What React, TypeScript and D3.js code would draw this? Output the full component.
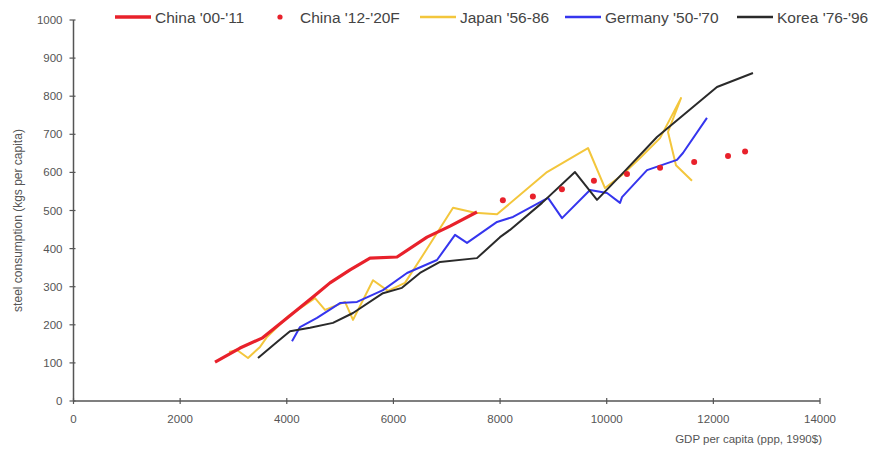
import React from "react";
import * as d3 from "d3";

type P = [number, number];

const chinaA: P[] = [
  [2654, 102], [3123, 139], [3535, 165], [4023, 220], [4491, 273], [4810, 310],
  [5186, 344], [5561, 375], [6067, 378], [6630, 430], [7062, 459], [7567, 496],
];
const chinaF: P[] = [
  [8052, 527], [8615, 537], [9160, 556], [9760, 578], [10380, 596],
  [11000, 612], [11640, 627], [12275, 643], [12595, 655],
];
const japan: P[] = [
  [2916, 129], [3066, 134], [3273, 113], [3498, 142], [3629, 168], [4023, 222],
  [4529, 270], [4717, 239], [5092, 260], [5242, 213], [5617, 317], [5898, 289],
  [6217, 310], [6555, 383], [7118, 507], [7530, 494], [7943, 490], [8880, 601],
  [9649, 664], [9968, 559], [10287, 593], [10625, 638], [11000, 690],
  [11393, 795], [11149, 706], [11299, 619], [11599, 578],
];
const germany: P[] = [
  [4098, 157], [4248, 194], [4567, 218], [4998, 257], [5317, 260], [5804, 291],
  [6255, 336], [6817, 370], [7155, 436], [7380, 415], [7943, 470], [8243, 483],
  [8900, 533], [9162, 480], [9687, 554], [10006, 546], [10250, 520], [10287, 535],
  [10756, 606], [11318, 633], [11430, 651], [11880, 743],
];
const korea: P[] = [
  [3460, 113], [3816, 155], [4060, 183], [4436, 192], [4866, 205], [5242, 231],
  [5804, 283], [6160, 297], [6498, 336], [6873, 365], [7567, 375], [7998, 430],
  [8186, 449], [8787, 520], [9405, 601], [9818, 528], [10343, 604], [10943, 693],
  [12068, 824], [12743, 861],
];

const xTicks = [0, 2000, 4000, 6000, 8000, 10000, 12000, 14000];
const yTicks = [0, 100, 200, 300, 400, 500, 600, 700, 800, 900, 1000];

const legendItems = [
  { label: "China '00-'11", color: "#e8212b", kind: "line", w: 3 },
  { label: "China '12-'20F", color: "#e8212b", kind: "dot", w: 0 },
  { label: "Japan '56-86", color: "#f3c63c", kind: "line", w: 2 },
  { label: "Germany '50-'70", color: "#3535ee", kind: "line", w: 2 },
  { label: "Korea '76-'96", color: "#2a2a2a", kind: "line", w: 2 },
];
const legendX = [115, 272, 420, 565, 737];

export default function App() {
  const x = d3.scaleLinear().domain([0, 14000]).range([73.5, 820]);
  const y = d3.scaleLinear().domain([0, 1000]).range([401, 20]);
  const line = d3
    .line<P>()
    .x((d) => x(d[0]))
    .y((d) => y(d[1]));
  const font = "'Liberation Sans', Arial, sans-serif";
  const axisColor = "#555";
  const series = [
    { data: japan, color: "#f3c63c", w: 2 },
    { data: germany, color: "#3535ee", w: 2 },
    { data: korea, color: "#2a2a2a", w: 2 },
    { data: chinaA, color: "#e8212b", w: 3.2 },
  ];
  return (
    <svg
      width={875}
      height={451}
      style={{ position: "absolute", left: 0, top: 0, background: "#fff" }}
      fontFamily={font}
    >
      {/* axes */}
      <line x1={x(0)} x2={x(14000)} y1={y(0)} y2={y(0)} stroke={axisColor} strokeWidth={1.5} />
      <line x1={x(0)} x2={x(0)} y1={y(0)} y2={y(1000)} stroke={axisColor} strokeWidth={1.5} />
      {xTicks.map((t) => (
        <g key={"x" + t}>
          <line x1={x(t)} x2={x(t)} y1={y(0) - 3} y2={y(0) + 3} stroke={axisColor} strokeWidth={1.2} />
          <text x={x(t)} y={y(0) + 22} textAnchor="middle" fontSize={11.5} fill="#555">
            {t}
          </text>
        </g>
      ))}
      {yTicks.map((t) => (
        <g key={"y" + t}>
          <line x1={x(0) - 4} x2={x(0) + 2} y1={y(t)} y2={y(t)} stroke={axisColor} strokeWidth={1.2} />
          <text x={x(0) - 11} y={y(t) + 4} textAnchor="end" fontSize={11.5} fill="#555">
            {t}
          </text>
        </g>
      ))}
      <text
        transform={`translate(22,${(y(0) + y(1000)) / 2 + 10}) rotate(-90)`}
        textAnchor="middle"
        fontSize={12}
        fill="#555"
      >
        steel consumption (kgs per capita)
      </text>
      <text x={822} y={443} textAnchor="end" fontSize={11.5} fill="#555">
        GDP per capita (ppp, 1990$)
      </text>

      {/* series */}
      {series.map((s, i) => (
        <path
          key={i}
          d={line(s.data) || ""}
          fill="none"
          stroke={s.color}
          strokeWidth={s.w}
          strokeLinejoin="round"
        />
      ))}
      {chinaF.map((d, i) => (
        <circle key={i} cx={x(d[0])} cy={y(d[1])} r={3} fill="#e8212b" />
      ))}

      {/* legend */}
      {legendItems.map((it, i) => {
        const lx = legendX[i];
        const ly = 17;
        return (
          <g key={it.label}>
            {it.kind === "line" ? (
              <line x1={lx} x2={lx + 36} y1={ly} y2={ly} stroke={it.color} strokeWidth={it.w + 0.5} />
            ) : (
              <circle cx={lx + 8} cy={ly} r={2.6} fill={it.color} />
            )}
            <text x={it.kind === "line" ? lx + 40 : lx + 28} y={ly + 5.5} fontSize={15.5} fill="#444">
              {it.label}
            </text>
          </g>
        );
      })}
    </svg>
  );
}
